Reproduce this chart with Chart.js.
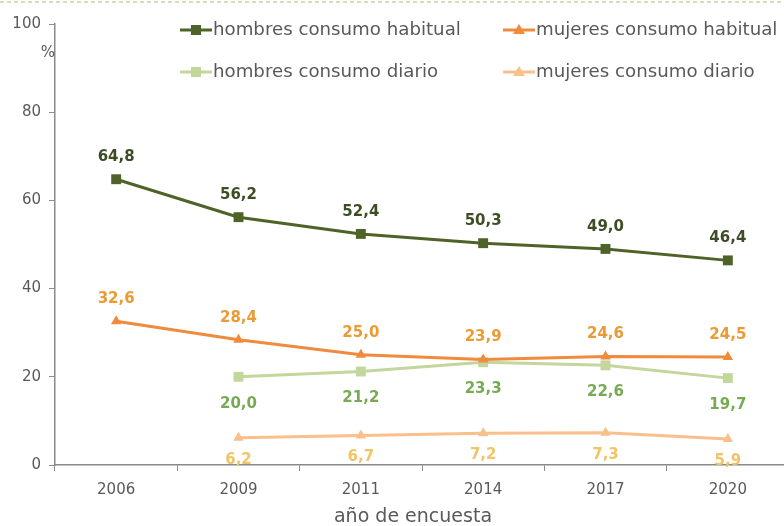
<!DOCTYPE html>
<html>
<head>
<meta charset="utf-8">
<script src="https://cdn.jsdelivr.net/npm/chart.js@4.4.1/dist/chart.umd.min.js"></script>
<style>
html,body{margin:0;padding:0;background:#fff;overflow:hidden;}
#wrap{position:relative;width:796px;height:526px;}
</style>
</head>
<body>
<div id="wrap"><canvas id="c" width="796" height="526"></canvas></div>
<script>
const categories = ['2006','2009','2011','2014','2017','2020'];
const hombresHabitual = [64.8, 56.2, 52.4, 50.3, 49.0, 46.4];
const mujeresHabitual = [32.6, 28.4, 25.0, 23.9, 24.6, 24.5];
const hombresDiario = [null, 20.0, 21.2, 23.3, 22.6, 19.7];
const mujeresDiario = [null, 6.2, 6.7, 7.2, 7.3, 5.9];
const yTicks = [0, 20, 40, 60, 80, 100];
const seriesNames = ['hombres consumo habitual','mujeres consumo habitual','hombres consumo diario','mujeres consumo diario'];

const FONT = '"DejaVu Sans", sans-serif';
const TXT = '#595959';

const styles = [
  {line:'#4f6228', label:'#3d4d26', shape:'rect', pos:'above'},
  {line:'#f08a3c', label:'#eb9a34', shape:'triangle', pos:'above'},
  {line:'#c3d69b', label:'#78aa55', shape:'rect', pos:'below'},
  {line:'#f9bf8c', label:'#f2c468', shape:'triangle', pos:'below'}
];

function fmt(v){ return v.toFixed(1).replace('.', ','); }

const decorPlugin = {
  id:'decor',
  beforeDraw(chart){
    const ctx = chart.ctx;
    ctx.save();
    ctx.strokeStyle = '#cfd0a6';
    ctx.lineWidth = 1.5;
    ctx.setLineDash([4,3]);
    ctx.beginPath(); ctx.moveTo(0,2); ctx.lineTo(796,2); ctx.stroke();
    ctx.restore();
  },
  afterDatasetsDraw(chart){
    const ctx = chart.ctx;
    ctx.save();
    chart.data.datasets.forEach((ds, i) => {
      const meta = chart.getDatasetMeta(i);
      const st = styles[i];
      ctx.font = 'bold 15px ' + FONT;
      ctx.fillStyle = st.label;
      ctx.textAlign = 'center';
      ctx.textBaseline = 'middle';
      meta.data.forEach((pt, j) => {
        const v = ds.data[j];
        if (v === null || v === undefined) return;
        const dy = st.pos === 'above' ? -22 : (i === 2 ? 27 : 22);
        ctx.fillText(fmt(v), pt.x, pt.y + dy);
      });
    });
    ctx.font = '15px ' + FONT;
    ctx.fillStyle = TXT;
    ctx.textAlign = 'center';
    ctx.textBaseline = 'middle';
    ctx.fillText('%', 48, 53);
    ctx.font = '19px ' + FONT;
    ctx.fillText('año de encuesta', 413, 517);
    const items = [
      {x:180, y:30, i:0}, {x:503, y:30, i:1},
      {x:180, y:72, i:2}, {x:503, y:72, i:3}
    ];
    items.forEach(it => {
      const st = styles[it.i];
      ctx.strokeStyle = st.line;
      ctx.fillStyle = st.line;
      ctx.lineWidth = 3;
      ctx.beginPath(); ctx.moveTo(it.x, it.y); ctx.lineTo(it.x + 32, it.y); ctx.stroke();
      const cx = it.x + 16;
      if (st.shape === 'rect') {
        ctx.fillRect(cx - 5, it.y - 5, 10, 10);
      } else {
        ctx.beginPath();
        ctx.moveTo(cx, it.y - 6); ctx.lineTo(cx + 6, it.y + 4); ctx.lineTo(cx - 6, it.y + 4);
        ctx.closePath(); ctx.fill();
      }
      ctx.font = '18.2px ' + FONT;
      ctx.fillStyle = TXT;
      ctx.textAlign = 'left';
      ctx.fillText(seriesNames[it.i], it.x + 33, it.y);
    });
    ctx.restore();
  }
};

function mk(data, i){
  const st = styles[i];
  const r = st.shape === 'rect' ? 7 : 6;
  return {
    label: seriesNames[i],
    data: data,
    borderColor: st.line,
    backgroundColor: st.line,
    pointBackgroundColor: st.line,
    pointBorderColor: st.line,
    pointBorderWidth: 0,
    pointStyle: st.shape,
    pointRadius: r,
    pointHoverRadius: r,
    borderWidth: 3,
    tension: 0,
    spanGaps: false
  };
}

new Chart(document.getElementById('c'), {
  type:'line',
  data:{
    labels: categories,
    datasets:[
      mk(hombresHabitual,0),
      mk(mujeresHabitual,1),
      mk(hombresDiario,2),
      mk(mujeresDiario,3)
    ]
  },
  options:{
    responsive:false,
    animation:false,
    devicePixelRatio:1,
    layout:{padding:{top:24, right:2, left:0, bottom:0}},
    plugins:{legend:{display:false}, tooltip:{enabled:false}},
    scales:{
      x:{
        type:'category',
        offset:true,
        grid:{offset:true, drawOnChartArea:false, drawTicks:true, tickLength:6, color:'#8a8a8a'},
        border:{color:'#8a8a8a', width:1.5},
        ticks:{color:TXT, font:{family:FONT, size:15}, padding:10, maxRotation:0},
        afterFit(s){ s.height = 61; }
      },
      y:{
        min:0, max:100,
        afterBuildTicks(s){ s.ticks = yTicks.map(v => ({value:v})); },
        grid:{drawOnChartArea:false, drawTicks:true, tickLength:6, color:'#8a8a8a'},
        border:{color:'#8a8a8a', width:1.5},
        ticks:{color:TXT, font:{family:FONT, size:15}, padding:8},
        afterFit(s){ s.width = 55; }
      }
    }
  },
  plugins:[decorPlugin]
});
</script>
</body>
</html>
